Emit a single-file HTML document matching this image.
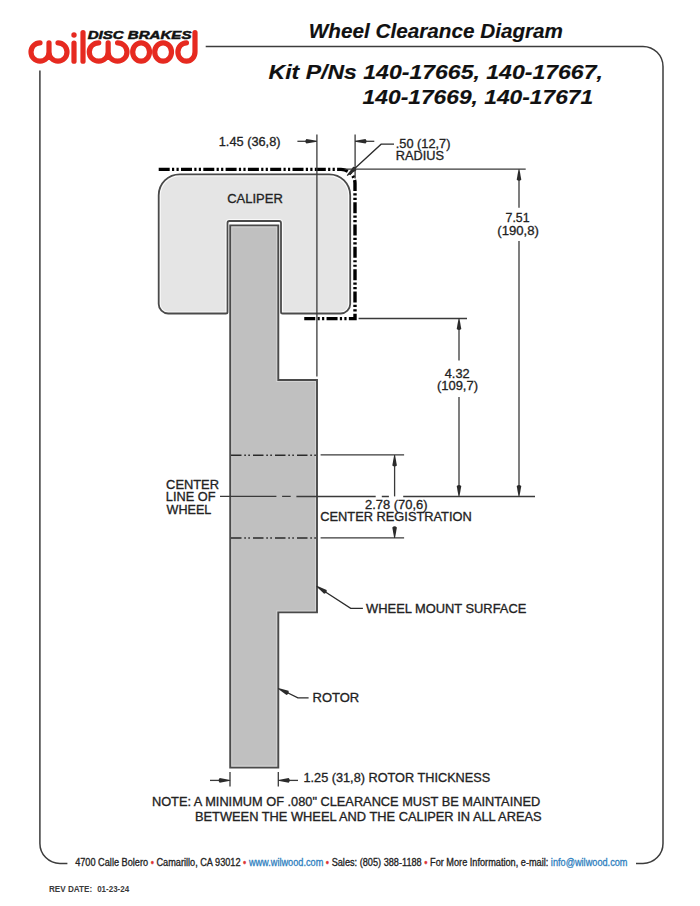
<!DOCTYPE html>
<html><head><meta charset="utf-8"><style>
html,body{margin:0;padding:0;background:#fff;}
svg{display:block;font-family:"Liberation Sans",sans-serif;}
</style></head><body>
<svg width="700" height="906" viewBox="0 0 700 906">
<rect width="700" height="906" fill="#fff"/>
<path d="M 40.00 42.80 A 9.00 9.2 0 1 0 49.00 52 L 49.00 42.80 M 49.00 52 A 9.00 9.2 0 1 0 58.00 42.80" fill="none" stroke="#e62a20" stroke-width="5.2" stroke-linecap="round"/>
<line x1="74" y1="43.0" x2="74" y2="61.2" stroke="#e62a20" stroke-width="5.2" stroke-linecap="round"/>
<circle cx="74" cy="35" r="2.7" fill="#e62a20"/>
<line x1="83" y1="32.5" x2="83" y2="61.2" stroke="#e62a20" stroke-width="5.2" stroke-linecap="round"/>
<path d="M 98.72 42.80 A 9.43 9.2 0 1 0 108.15 52 L 108.15 42.80 M 108.15 52 A 9.42 9.2 0 1 0 117.58 42.80" fill="none" stroke="#e62a20" stroke-width="5.2" stroke-linecap="round"/>
<ellipse cx="141.10" cy="52" rx="8.40" ry="9.2" fill="none" stroke="#e62a20" stroke-width="5.2"/>
<ellipse cx="163.10" cy="52" rx="8.40" ry="9.2" fill="none" stroke="#e62a20" stroke-width="5.2"/>
<path d="M 186.45 42.80 A 8.55 9.2 0 1 0 195.00 52 L 195.00 32.6" fill="none" stroke="#e62a20" stroke-width="5.2" stroke-linecap="round"/>
<path d="M 39.9 70.5 L 39.9 843.4 A 20 20 0 0 0 59.9 863.4 L 67.4 863.4" fill="none" stroke="#3c3c3c" stroke-width="1.5"/>
<path d="M 205.7 46.4 L 643 46.4 A 20 20 0 0 1 663 66.4 L 663 843.4 A 20 20 0 0 1 643 863.4 L 636 863.4" fill="none" stroke="#3c3c3c" stroke-width="1.5"/>
<clipPath id="cc"><path d="M 179.7 174.3 L 329.2 174.3 A 21 21 0 0 1 350.2 195.3 L 350.2 304 A 9.5 9.5 0 0 1 340.7 313.5 L 282.6 313.5 Q 281 313.5 281 311.9 L 281 223 Q 281 221 279 221 L 229.5 221 Q 227.5 221 227.5 223 L 227.5 311.9 Q 227.5 313.5 225.9 313.5 L 168.2 313.5 A 9.5 9.5 0 0 1 158.7 304 L 158.7 195.3 A 21 21 0 0 1 179.7 174.3 Z"/></clipPath>
<path d="M 179.7 174.3 L 329.2 174.3 A 21 21 0 0 1 350.2 195.3 L 350.2 304 A 9.5 9.5 0 0 1 340.7 313.5 L 282.6 313.5 Q 281 313.5 281 311.9 L 281 223 Q 281 221 279 221 L 229.5 221 Q 227.5 221 227.5 223 L 227.5 311.9 Q 227.5 313.5 225.9 313.5 L 168.2 313.5 A 9.5 9.5 0 0 1 158.7 304 L 158.7 195.3 A 21 21 0 0 1 179.7 174.3 Z" fill="#e5e5e5"/>
<path d="M 179.7 174.3 L 329.2 174.3 A 21 21 0 0 1 350.2 195.3 L 350.2 304 A 9.5 9.5 0 0 1 340.7 313.5 L 282.6 313.5 Q 281 313.5 281 311.9 L 281 223 Q 281 221 279 221 L 229.5 221 Q 227.5 221 227.5 223 L 227.5 311.9 Q 227.5 313.5 225.9 313.5 L 168.2 313.5 A 9.5 9.5 0 0 1 158.7 304 L 158.7 195.3 A 21 21 0 0 1 179.7 174.3 Z" fill="none" stroke="#fafafa" stroke-width="4.2" clip-path="url(#cc)"/>
<path d="M 179.7 174.3 L 329.2 174.3 A 21 21 0 0 1 350.2 195.3 L 350.2 304 A 9.5 9.5 0 0 1 340.7 313.5 L 282.6 313.5 Q 281 313.5 281 311.9 L 281 223 Q 281 221 279 221 L 229.5 221 Q 227.5 221 227.5 223 L 227.5 311.9 Q 227.5 313.5 225.9 313.5 L 168.2 313.5 A 9.5 9.5 0 0 1 158.7 304 L 158.7 195.3 A 21 21 0 0 1 179.7 174.3 Z" fill="none" stroke="#4a4a4a" stroke-width="1.8"/>
<clipPath id="rc"><path d="M 230.2 225.4 L 278.3 225.4 L 278.3 380 L 317 380 L 317 612.4 L 278.3 612.4 L 278.3 767.6 L 230.2 767.6 Z"/></clipPath>
<path d="M 230.2 225.4 L 278.3 225.4 L 278.3 380 L 317 380 L 317 612.4 L 278.3 612.4 L 278.3 767.6 L 230.2 767.6 Z" fill="#c0c0c0"/>
<path d="M 230.2 225.4 L 278.3 225.4 L 278.3 380 L 317 380 L 317 612.4 L 278.3 612.4 L 278.3 767.6 L 230.2 767.6 Z" fill="none" stroke="#d4d4d4" stroke-width="4.0" clip-path="url(#rc)"/>
<path d="M 230.2 225.4 L 278.3 225.4 L 278.3 380 L 317 380 L 317 612.4 L 278.3 612.4 L 278.3 767.6 L 230.2 767.6 Z" fill="none" stroke="#4a4a4a" stroke-width="1.9"/>
<path d="M 158.7 169.4 L 341 169.4 A 14 14 0 0 1 355 183.4 L 355 318.6 L 302 318.6" fill="none" stroke="#000" stroke-width="3.4" stroke-dasharray="11 2.3 2.2 2.3 2.2 2.3"/>
<line x1="231" y1="455.2" x2="317" y2="455.2" stroke="#2a2a2a" stroke-width="1.5" stroke-dasharray="10.5 2.8 1.6 2.4 1.6 3.1"/>
<line x1="231" y1="538.0" x2="317" y2="538.0" stroke="#2a2a2a" stroke-width="1.5" stroke-dasharray="10.5 2.8 1.6 2.4 1.6 3.1"/>
<line x1="316.9" y1="134.4" x2="316.9" y2="376.6" stroke="#3a3a3a" stroke-width="1.3" />
<line x1="355.1" y1="134.4" x2="355.1" y2="178.6" stroke="#3a3a3a" stroke-width="1.3" />
<line x1="297.4" y1="141.3" x2="310" y2="141.3" stroke="#3a3a3a" stroke-width="1.3" />
<path d="M 316.90 141.75 L 306.40 143.60 Q 304.20 141.30 306.40 139.00 L 316.90 140.85 Z" fill="#2b2b2b"/>
<line x1="374.3" y1="141.3" x2="362" y2="141.3" stroke="#3a3a3a" stroke-width="1.3" />
<path d="M 355.00 140.85 L 365.50 139.00 Q 367.70 141.30 365.50 143.60 L 355.00 141.75 Z" fill="#2b2b2b"/>
<polyline points="394,144.2 381.1,144.2 352,171" fill="none" stroke="#2b2b2b" stroke-width="1.3"/>
<path d="M 346.75 175.28 L 353.22 166.80 Q 356.39 167.00 356.34 170.18 L 347.36 175.94 Z" fill="#2b2b2b"/>
<line x1="344.6" y1="169.2" x2="525.7" y2="169.2" stroke="#3a3a3a" stroke-width="1.3" />
<line x1="519" y1="176" x2="519" y2="207.7" stroke="#3a3a3a" stroke-width="1.3" />
<path d="M 519.45 169.20 L 521.30 179.70 Q 519.00 181.90 516.70 179.70 L 518.55 169.20 Z" fill="#2b2b2b"/>
<line x1="519" y1="241.1" x2="519" y2="488" stroke="#3a3a3a" stroke-width="1.3" />
<path d="M 518.55 496.60 L 516.70 486.10 Q 519.00 483.90 521.30 486.10 L 519.45 496.60 Z" fill="#2b2b2b"/>
<line x1="358.6" y1="318.5" x2="467" y2="318.5" stroke="#3a3a3a" stroke-width="1.3" />
<line x1="459" y1="325" x2="459" y2="360.6" stroke="#3a3a3a" stroke-width="1.3" />
<path d="M 459.45 318.40 L 461.30 328.90 Q 459.00 331.10 456.70 328.90 L 458.55 318.40 Z" fill="#2b2b2b"/>
<line x1="459" y1="397" x2="459" y2="488" stroke="#3a3a3a" stroke-width="1.3" />
<path d="M 458.55 496.60 L 456.70 486.10 Q 459.00 483.90 461.30 486.10 L 459.45 496.60 Z" fill="#2b2b2b"/>
<path d="M 220 496.4 L 276.4 496.4 M 282.1 496.4 L 290.7 496.4 M 296.4 496.5 L 375.7 496.5 M 381.8 496.5 L 388.9 496.5 M 403.2 496.5 L 535 496.5" stroke="#3a3a3a" stroke-width="1.4"/>
<line x1="320.6" y1="454.9" x2="404.1" y2="454.9" stroke="#3a3a3a" stroke-width="1.3" />
<line x1="320.6" y1="537.8" x2="404.1" y2="537.8" stroke="#3a3a3a" stroke-width="1.3" />
<line x1="394.6" y1="462" x2="394.6" y2="496.4" stroke="#3a3a3a" stroke-width="1.3" />
<path d="M 395.05 454.90 L 396.90 465.40 Q 394.60 467.60 392.30 465.40 L 394.15 454.90 Z" fill="#2b2b2b"/>
<line x1="394.6" y1="527" x2="394.6" y2="531" stroke="#3a3a3a" stroke-width="1.3" />
<path d="M 394.15 537.90 L 392.30 527.40 Q 394.60 525.20 396.90 527.40 L 395.05 537.90 Z" fill="#2b2b2b"/>
<polyline points="362.9,608.3 350.7,608.3 322,589.8" fill="none" stroke="#2b2b2b" stroke-width="1.3"/>
<path d="M 316.84 585.70 L 326.65 589.88 Q 327.24 593.01 324.14 593.73 L 316.35 586.45 Z" fill="#2b2b2b"/>
<polyline points="308.6,697.9 297.9,697.9 284,691" fill="none" stroke="#2b2b2b" stroke-width="1.3"/>
<path d="M 278.25 687.93 L 288.52 690.83 Q 289.50 693.85 286.52 694.97 L 277.86 688.74 Z" fill="#2b2b2b"/>
<line x1="230" y1="772.1" x2="230" y2="786.4" stroke="#3a3a3a" stroke-width="1.3" />
<line x1="278.3" y1="772.1" x2="278.3" y2="786.4" stroke="#3a3a3a" stroke-width="1.3" />
<line x1="210" y1="780.4" x2="222" y2="780.4" stroke="#3a3a3a" stroke-width="1.3" />
<path d="M 230.20 780.85 L 219.70 782.70 Q 217.50 780.40 219.70 778.10 L 230.20 779.95 Z" fill="#2b2b2b"/>
<line x1="298" y1="780.4" x2="286" y2="780.4" stroke="#3a3a3a" stroke-width="1.3" />
<path d="M 278.20 779.95 L 288.70 778.10 Q 290.90 780.40 288.70 782.70 L 278.20 780.85 Z" fill="#2b2b2b"/>
<text x="87.68" y="38.7" font-family="Liberation Sans" font-size="11.6" font-weight="bold" font-style="italic" fill="#111" stroke="#111" stroke-width="0.5" textLength="103.81" lengthAdjust="spacingAndGlyphs">DISC BRAKES</text>
<text x="308.81" y="38.0" font-family="Liberation Sans" font-size="20.8" font-weight="bold" font-style="italic" fill="#111" stroke="#111" stroke-width="0.15" textLength="254.24" lengthAdjust="spacingAndGlyphs">Wheel Clearance Diagram</text>
<text x="268.54" y="79.0" font-family="Liberation Sans" font-size="20.7" font-weight="bold" font-style="italic" fill="#111" stroke="#111" stroke-width="0.15" textLength="334.32" lengthAdjust="spacingAndGlyphs">Kit P/Ns 140-17665, 140-17667,</text>
<text x="362.62" y="103.8" font-family="Liberation Sans" font-size="20.7" font-weight="bold" font-style="italic" fill="#111" stroke="#111" stroke-width="0.15" textLength="230.61" lengthAdjust="spacingAndGlyphs">140-17669, 140-17671</text>
<text x="218.75" y="145.6" font-family="Liberation Sans" font-size="12.2" font-weight="normal" font-style="normal" fill="#222" stroke="#222" stroke-width="0.3" textLength="61.78" lengthAdjust="spacingAndGlyphs">1.45 (36,8)</text>
<text x="395.75" y="148.3" font-family="Liberation Sans" font-size="12.2" font-weight="normal" font-style="normal" fill="#222" stroke="#222" stroke-width="0.3" textLength="54.65" lengthAdjust="spacingAndGlyphs">.50 (12,7)</text>
<text x="395.75" y="160.3" font-family="Liberation Sans" font-size="12.2" font-weight="normal" font-style="normal" fill="#222" stroke="#222" stroke-width="0.3" textLength="48.24" lengthAdjust="spacingAndGlyphs">RADIUS</text>
<text x="227.22" y="202.8" font-family="Liberation Sans" font-size="12.5" font-weight="normal" font-style="normal" fill="#222" stroke="#222" stroke-width="0.3" textLength="55.56" lengthAdjust="spacingAndGlyphs">CALIPER</text>
<text x="505.56" y="221.9" font-family="Liberation Sans" font-size="12.5" font-weight="normal" font-style="normal" fill="#222" stroke="#222" stroke-width="0.3" textLength="24.03" lengthAdjust="spacingAndGlyphs">7.51</text>
<text x="497.31" y="234.7" font-family="Liberation Sans" font-size="12.5" font-weight="normal" font-style="normal" fill="#222" stroke="#222" stroke-width="0.3" textLength="41.59" lengthAdjust="spacingAndGlyphs">(190,8)</text>
<text x="444.74" y="377.7" font-family="Liberation Sans" font-size="12.5" font-weight="normal" font-style="normal" fill="#222" stroke="#222" stroke-width="0.3" textLength="24.86" lengthAdjust="spacingAndGlyphs">4.32</text>
<text x="436.92" y="390.1" font-family="Liberation Sans" font-size="12.5" font-weight="normal" font-style="normal" fill="#222" stroke="#222" stroke-width="0.3" textLength="41.07" lengthAdjust="spacingAndGlyphs">(109,7)</text>
<text x="166.11" y="488.9" font-family="Liberation Sans" font-size="12.2" font-weight="normal" font-style="normal" fill="#222" stroke="#222" stroke-width="0.3" textLength="52.83" lengthAdjust="spacingAndGlyphs">CENTER</text>
<text x="165.85" y="501.4" font-family="Liberation Sans" font-size="12.2" font-weight="normal" font-style="normal" fill="#222" stroke="#222" stroke-width="0.3" textLength="49.57" lengthAdjust="spacingAndGlyphs">LINE OF</text>
<text x="166.64" y="514.0" font-family="Liberation Sans" font-size="12.2" font-weight="normal" font-style="normal" fill="#222" stroke="#222" stroke-width="0.3" textLength="44.61" lengthAdjust="spacingAndGlyphs">WHEEL</text>
<text x="365.07" y="508.7" font-family="Liberation Sans" font-size="12.2" font-weight="normal" font-style="normal" fill="#222" stroke="#222" stroke-width="0.3" textLength="62.47" lengthAdjust="spacingAndGlyphs">2.78 (70,6)</text>
<text x="320.31" y="520.8" font-family="Liberation Sans" font-size="12.2" font-weight="normal" font-style="normal" fill="#222" stroke="#222" stroke-width="0.3" textLength="151.44" lengthAdjust="spacingAndGlyphs">CENTER REGISTRATION</text>
<text x="366.14" y="612.6" font-family="Liberation Sans" font-size="12.2" font-weight="normal" font-style="normal" fill="#222" stroke="#222" stroke-width="0.3" textLength="160.13" lengthAdjust="spacingAndGlyphs">WHEEL MOUNT SURFACE</text>
<text x="312.53" y="701.7" font-family="Liberation Sans" font-size="12.2" font-weight="normal" font-style="normal" fill="#222" stroke="#222" stroke-width="0.3" textLength="46.65" lengthAdjust="spacingAndGlyphs">ROTOR</text>
<text x="303.46" y="782.4" font-family="Liberation Sans" font-size="12.2" font-weight="normal" font-style="normal" fill="#222" stroke="#222" stroke-width="0.3" textLength="186.81" lengthAdjust="spacingAndGlyphs">1.25 (31,8) ROTOR THICKNESS</text>
<text x="151.93" y="806.2" font-family="Liberation Sans" font-size="12.0" font-weight="normal" font-style="normal" fill="#222" stroke="#222" stroke-width="0.3" textLength="388.25" lengthAdjust="spacingAndGlyphs">NOTE: A MINIMUM OF .080&quot; CLEARANCE MUST BE MAINTAINED</text>
<text x="194.93" y="821.2" font-family="Liberation Sans" font-size="12.0" font-weight="normal" font-style="normal" fill="#222" stroke="#222" stroke-width="0.3" textLength="346.70" lengthAdjust="spacingAndGlyphs">BETWEEN THE WHEEL AND THE CALIPER IN ALL AREAS</text>
<text x="75.17" y="866.3" font-family="Liberation Sans" font-size="10.0" font-weight="normal" font-style="normal" fill="#222" stroke="#222" stroke-width="0.3" textLength="552.30" lengthAdjust="spacingAndGlyphs">4700 Calle Bolero <tspan fill="#d33" stroke="#d33">•</tspan> Camarillo, CA 93012 <tspan fill="#d33" stroke="#d33">•</tspan> <tspan fill="#2f7fc0" stroke="#2f7fc0">www.wilwood.com</tspan> <tspan fill="#d33" stroke="#d33">•</tspan> Sales: (805) 388-1188 <tspan fill="#d33" stroke="#d33">•</tspan> For More Information, e-mail: <tspan fill="#2f7fc0" stroke="#2f7fc0">info@wilwood.com</tspan></text>
<text x="48.93" y="891.9" font-family="Liberation Sans" font-size="8.7" font-weight="bold" font-style="normal" fill="#3a3a3a" stroke="#3a3a3a" stroke-width="0" textLength="43.35" lengthAdjust="spacingAndGlyphs">REV DATE:</text>
<text x="97.17" y="891.9" font-family="Liberation Sans" font-size="8.7" font-weight="bold" font-style="normal" fill="#3a3a3a" stroke="#3a3a3a" stroke-width="0" textLength="31.96" lengthAdjust="spacingAndGlyphs">01-23-24</text>
</svg>
</body></html>
